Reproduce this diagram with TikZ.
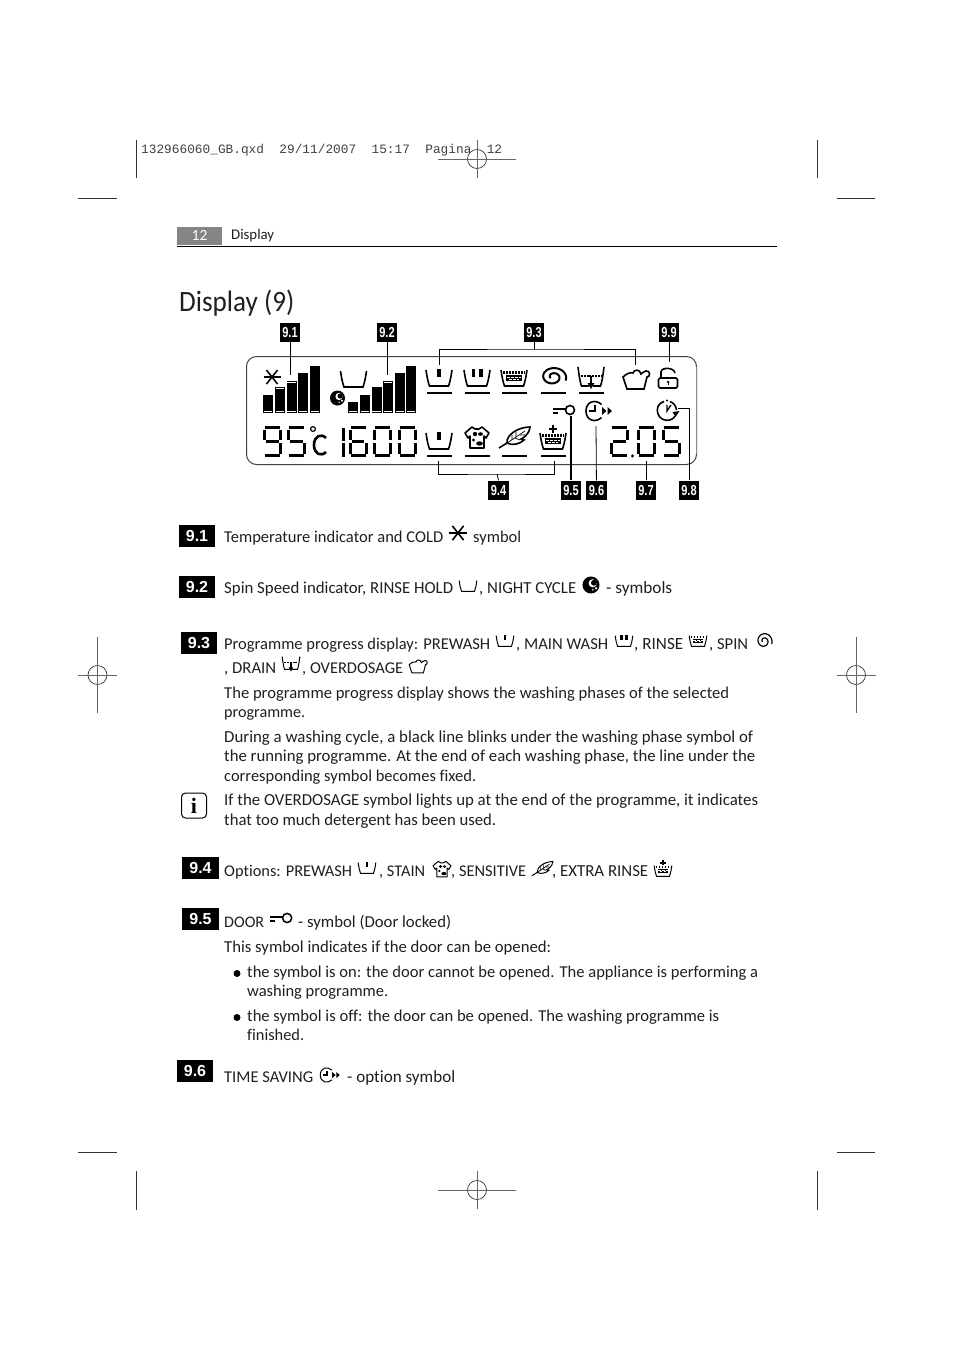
\documentclass[tikz,border=0pt]{standalone}
\usepackage{graphicx}
\usepackage{fontspec}
\setmainfont{Carlito}[Ligatures=NoCommon]
\newfontfamily\titlefont[FakeStretch=0.92,Ligatures=NoCommon]{Carlito}
\newfontfamily\tagfont[FakeStretch=0.76]{Liberation Sans}
\newfontfamily\sectionfont{Liberation Sans}
\newfontfamily\headfont{Liberation Serif}
\setmonofont{Liberation Mono}
\usetikzlibrary{arrows.meta}
\definecolor{inkgray}{gray}{0.12}
\newcommand{\fitw}[2]{\resizebox{#1pt}{!}{#2}} % printed width of a line
\tikzset{
  body/.style={anchor=base west, inner sep=0pt, text=inkgray, font=\fontsize{16.75}{18}\selectfont}, % one printed line
  tag/.style={fill=black, text=white, inner sep=0pt, minimum width=20.5pt, minimum height=19pt, font=\tagfont\bfseries\fontsize{14.5}{15}\selectfont},
  sectiontag/.style={fill=black, text=white, inner sep=0pt, minimum width=36pt, minimum height=22pt, font=\sectionfont\bfseries\fontsize{16}{17}\selectfont},
  leader/.style={line width=.8pt, black},
  crop/.style={line width=.7pt, black!80},
  lcd/.style={line width=1.6pt, black}, % symbols of the display
  inline/.style={scale=.68, line width=1pt, black}, % symbols inside the text
  segline/.style={line width=3.2pt, black},
  underline/.style={line width=1.6pt, black},
  pics/tub/.style={code={
    \draw (-13,-8) .. controls (-12,-1) and (-11,4) .. (-9.5,8) -- (9.5,8) .. controls (11,4) and (12,-1) .. (13,-8);
  }},
  pics/prewash/.style={code={
    \pic[transform shape] {tub};
    \fill (-1.8,-9) rectangle (1.8,-1);
  }},
  pics/mainwash/.style={code={
    \pic[transform shape] {tub};
    \fill (-5.5,-9) rectangle (-2,-1);
    \fill (2,-9) rectangle (5.5,-1);
  }},
  pics/rinse/.style={code={
    \pic[transform shape] {tub};
    \draw[line width=2.2pt, dash pattern=on 1.6pt off 1.4pt] (-11,-5.5) -- (11,-5.5);
    \fill (-8,-3) rectangle (8,3);
    \draw[white, line width=1pt, dash pattern=on 2.5pt off 1.5pt] (-7,-1) -- (7,-1);
    \draw[white, line width=1pt, dash pattern=on 2.5pt off 1.5pt] (-5,1.2) -- (5,1.2);
  }},
  pics/spin/.style={code={
    \draw plot[domain=0:1, samples=50, smooth] ({(13.5-11*\x)*cos(20-590*\x)},{(10.5-8.5*\x)*sin(20-590*\x)});
  }},
  pics/drain/.style={code={
    \draw (-13,-11) .. controls (-12,-3) and (-11,4) .. (-9.5,8) -- (-2,8);
    \draw (2,8) -- (9.5,8) .. controls (11,4) and (12,-3) .. (13,-11);
    \draw[line width=1.3pt, dash pattern=on 2pt off .8pt] (-10,-2) -- (10,-2);
    \draw[line width=1.3pt] (0,-2) -- (0,7);
    \fill (-3.5,5) -- (3.5,5) -- (0,11) -- cycle;
  }},
  pics/overdose/.style={code={
    \draw (-13,-2) -- (-9,10) -- (8,10) -- (11,-2) .. controls (15,-2) and (14,-9) .. (10,-8) .. controls (7,-8) and (6,-5) .. (5,-5) .. controls (4,-10) and (-2,-10) .. (-3,-6) .. controls (-6,-7) and (-10,-5) .. (-13,-2) -- cycle;
  }},
  pics/padlock/.style={code={
    \draw[rounded corners=1.5pt] (-9.5,0) rectangle (9.5,10);
    \draw (-7,0) -- (-7,-6) .. controls (-7,-11) and (6,-11) .. (7,-5);
    \draw[line width=1pt] (0,3) -- (0,7);
    \fill (-1.5,4.5) -- (1.5,4.5) -- (0,2.5) -- cycle;
  }},
  pics/doorkey/.style={code={
    \draw (7,-1) circle (4.5);
    \draw[line width=2pt] (-10,-2) -- (2.5,-2);
    \draw[line width=2pt] (-10,2) -- (-5,2);
  }},
  pics/timesave/.style={code={
    \draw (6.5,-6.5) .. controls (1,-12) and (-9,-10) .. (-9,0) .. controls (-9,10) and (1,12) .. (6.5,6.5);
    \draw[line width=1.3pt] (0,-6) -- (0,0) -- (-6,0);
    \fill (7,-4) -- (11.5,0) -- (7,4) -- cycle;
    \fill (12.5,-4) -- (17,0) -- (12.5,4) -- cycle;
  }},
  pics/delay/.style={code={
    \draw (-3,-9.5) .. controls (-9,-8) and (-11,-2) .. (-9,3) .. controls (-6,11) and (5,11) .. (8,5);
    \draw (3,-9.5) .. controls (7,-8) and (9,-5) .. (9.5,-1);
    \draw[line width=1.3pt] (0,-6) -- (0,0) -- (4,-6);
    \fill (0,-10.5) circle (1.2);
    \fill (5.5,1) -- (12.5,0) -- (8.5,6) -- cycle;
  }},
  pics/snow/.style={code={
    \draw (-8.5,0) -- (8.5,0);
    \draw (-5.5,-7) -- (5.5,7);
    \draw (5.5,-7) -- (-5.5,7);
  }},
  pics/moon/.style={code={
    \fill (0,0) circle (7.5);
    \fill[white] (1.5,-1.5) circle (3.6);
    \fill (2.6,-2) circle (2.6);
    \fill[white] (4.5,2.8) circle (1.1);
    \fill[white] (1.6,4.2) circle (.8);
  }},
  pics/shirt/.style={code={
    \draw[line join=round] (-12,-7) -- (-5,-13) -- (-2,-11) -- (2,-11) -- (5,-13) -- (12,-7) -- (9,-2) -- (7,-4) -- (7,8) -- (-7,8) -- (-7,-4) -- (-9,-2) -- cycle;
    \fill (-2,-6) circle (2.2);
    \fill (3.5,-6) ellipse (2.5 and 1.8);
    \fill (-3.5,0) circle (1.6);
    \fill (2.5,3.5) ellipse (3.4 and 2.2);
  }},
  pics/feather/.style={code={
    \draw (-15,10) -- (-7,5);
    \draw (-7,5) .. controls (-8,-3) and (4,-11) .. (16,-11) .. controls (15,-3) and (9,0) .. (7,1) -- (10,2) .. controls (6,6) and (-2,8) .. (-7,5) -- cycle;
    \draw[line width=.7pt] (-7,5) -- (11,-7);
    \draw[line width=.7pt] (-2,2) -- (-2,-3) (2,-1) -- (2,-6) (1,0) -- (6,2) (6,-3) -- (11,-3);
  }},
  pics/extrarinse/.style={code={
    \pic[transform shape] {rinse};
    \draw[line width=2pt] (-4,-12.5) -- (4,-12.5) (0,-16.5) -- (0,-8.5);
  }},
}
\newcommand{\segdigit}[3]{%
  \begin{scope}[shift={(#1+1.6,#2+1.6)}]
    \foreach \s in {#3} {\draw[segline] \csname seg\s\endcsname;}
  \end{scope}}
\def\sega{(.4,0) -- (15.6,0)}
\def\segb{(16,2) -- (16,12.2)}
\def\segc{(16,15.8) -- (16,26)}
\def\segd{(.4,28) -- (15.6,28)}
\def\sege{(0,15.8) -- (0,26)}
\def\segf{(0,2) -- (0,12.2)}
\def\segg{(1.8,14) -- (14.2,14)}

\begin{document}
\begin{tikzpicture}[x=1pt, y=-1pt]
  \useasboundingbox (0,0) rectangle (954,1350);

  % crop marks
  \draw[crop] (136,140) -- (136,178) (817,140) -- (817,178);
  \draw[crop] (136,1171) -- (136,1210) (817,1171) -- (817,1210);
  \draw[crop] (78,198) -- (117,198) (837,198) -- (875,198);
  \draw[crop] (78,1152) -- (117,1152) (837,1152) -- (875,1152);
  \foreach \x/\y/\u/\v in {477/159/39/19, 477/1190/39/19, 97.5/675/19.5/38, 856/675/19.5/38} {
    \draw[crop] (\x,\y) circle (9.5);
    \draw[crop, black!60] (\x-\u,\y) -- (\x+\u,\y) (\x,\y-\v) -- (\x,\y+\v);
  }
  \node[anchor=base west, inner sep=0pt, text=black!75, font=\ttfamily\fontsize{12.8}{14}\selectfont] (slug) at (141,153) {132966060\_GB.qxd\ \ 29/11/2007\ \ 15:17\ \ Pagina\ \ 12};

  % page head
  \node[fill=black!48, text=white, inner sep=0pt, minimum width=45pt, minimum height=18pt, font=\fontsize{15.5}{16}\selectfont] (pageno) at (199.5,235.5) {12};
  \node[body, font=\fontsize{15.5}{16}\selectfont] (headtext) at (231,239) {\fitw{43}{Display}};
  \draw[line width=1pt] (177,246.5) -- (777,246.5);
  \node[body, font=\titlefont\fontsize{29.5}{31}\selectfont] (title) at (179,311) {Display (9)};

  % display panel
  \draw[line width=1pt, black!75, rounded corners=10pt] (246.5,356.5) rectangle (696.5,464.5);
  \draw[line width=1.2pt, black!45] (696.5,367) -- (696.5,454);

  \foreach \x/\t/\s in {263/395/0, 275/387/1, 286.5/381/1, 298/373/0, 310/366/0,
                        348/402/0, 360/395/0, 371.5/387/0, 383/381/1, 395/373/0, 406/366/0} {
    \fill (\x,\t) rectangle (\x+10,413);
    \draw[white, line width=.7pt] (\x+.8,411) -- (\x+9.2,411);
    \ifnum\s=1 \draw[white, line width=.7pt] (\x+.8,\t+1.6) -- (\x+9.2,\t+1.6); \fi
  }

  \begin{scope}[lcd]
    \pic at (272,377) {snow};
    \pic at (353.5,379) {tub};
    \pic at (337.5,398) {moon};
    \pic at (439,378) {prewash};
    \pic at (477,378) {mainwash};
    \pic at (514,378) {rinse};
    \pic[line width=2pt] at (553,377) {spin};
    \pic at (591,378) {drain};
    \pic at (636,379) {overdose};
    \pic at (668,378) {padlock};
    \pic at (563,411) {doorkey};
    \pic at (595,411) {timesave};
    \pic at (667,411) {delay};
    \pic at (439,441) {prewash};
    \pic at (477,440) {shirt};
    \pic at (514,438) {feather};
    \pic at (553,441) {extrarinse};
  \end{scope}
  \foreach \x in {439.5, 477, 514.5, 553, 591.5} {\draw[underline] (\x-12.5,393) -- (\x+12.5,393);}
  \foreach \x in {439.5, 477, 514.5, 553} {\draw[underline] (\x-12.5,456) -- (\x+12.5,456);}

  \segdigit{263}{426}{a,b,c,d,f,g}
  \segdigit{287}{426}{a,c,d,f,g}
  \draw[line width=1.2pt] (313,429) circle (2.4);
  \draw[line width=2.6pt] (326,438) .. controls (321,433) and (314,436) .. (314,445) .. controls (314,454) and (321,457) .. (326,452);
  \draw[segline] (343.5,427.5) -- (343.5,441) (343.5,442.5) -- (343.5,456.5);
  \segdigit{348.5}{426}{a,c,d,e,f,g}
  \segdigit{373}{426}{a,b,c,d,e,f}
  \segdigit{398}{426}{a,b,c,d,e,f}
  \segdigit{610}{426}{a,b,d,e,g}
  \fill (632.5,456) circle (1.6);
  \segdigit{636.5}{426}{a,b,c,d,e,f}
  \segdigit{662}{426}{a,c,d,f,g}

  % numbered tags round the panel
  \node[tag] (l91) at (290,332.5) {9.1};
  \node[tag] (l92) at (387,332.5) {9.2};
  \node[tag] (l93) at (534,332.5) {9.3};
  \node[tag] (l99) at (669,332.5) {9.9};
  \node[tag] (l94) at (498.5,490) {9.4};
  \node[tag] (l95) at (571,490) {9.5};
  \node[tag] (l96) at (596.5,490) {9.6};
  \node[tag] (l97) at (646,490) {9.7};
  \node[tag] (l98) at (689,490) {9.8};

  \coordinate (c91) at (290,375);
  \coordinate (c92) at (387,375);
  \coordinate (c99) at (669,362);
  \coordinate (c93) at (534,349);
  \coordinate (c93a) at (439,365);
  \coordinate (c93b) at (635,365);
  \coordinate (c94) at (497,474);
  \coordinate (c94a) at (438,461);
  \coordinate (c94b) at (554,461);
  \coordinate (c95) at (571,416);
  \coordinate (c96) at (596,426);
  \coordinate (c97) at (646,461);
  \coordinate (c98) at (678,408);
  \draw[leader] (l91) -- (c91);
  \draw[leader] (l92) -- (c92);
  \draw[leader] (l99) -- (c99);
  \draw[leader] (l93) -- (c93);
  \draw[leader] (c93a) |- (c93) -| (c93b);
  \draw[leader] (l94.north) -- (c94);
  \draw[leader] (c94a) |- (c94) -| (c94b);
  \draw[leader, line width=2pt] (l95) -- (c95);
  \draw[leader] (l96) -- (c96);
  \draw[leader] (l97) -- (c97);
  \draw[leader] (l98) |- (c98);

  % 9.1
  \node[sectiontag] (s91) at (197,536) {9.1};
  \node[body] (t11) at (224,542) {\fitw{219}{Temperature indicator and COLD}};
  \pic[inline, scale=1.5, line width=1.6pt] at (458,533) {snow};
  \node[body] (t12) at (473,542) {\fitw{48}{symbol}};

  % 9.2
  \node[sectiontag] (s92) at (197,587) {9.2};
  \node[body] (t21) at (224,593) {\fitw{229}{Spin Speed indicator, RINSE HOLD}};
  \pic[inline] at (468,586) {tub};
  \node[body] (t22) at (479,593) {\fitw{97}{, NIGHT CYCLE}};
  \pic[inline, scale=1.67] at (591,585) {moon};
  \node[body] (t23) at (606,593) {\fitw{66}{- symbols}};

  % 9.3
  \node[sectiontag] (s93) at (199,642.5) {9.3};
  \node[body] (t31) at (224,649) {\fitw{266}{Programme progress display: PREWASH}};
  \pic[inline] at (505,641) {prewash};
  \node[body] (t32) at (516,649) {\fitw{92}{, MAIN WASH}};
  \pic[inline] at (624,641) {mainwash};
  \node[body] (t33) at (634,649) {\fitw{49}{, RINSE}};
  \pic[inline] at (698,641) {rinse};
  \node[body] (t34) at (709,649) {\fitw{39}{, SPIN}};
  \pic[inline, xscale=.9, yscale=1.2, line width=1.2pt] at (764,641) {spin};
  \node[body] (t35) at (224,673) {\fitw{52}{, DRAIN}};
  \pic[inline] at (291,664) {drain};
  \node[body] (t36) at (302,673) {\fitw{101}{, OVERDOSAGE}};
  \pic[inline] at (418,666) {overdose};
  \node[body] (t37) at (224,698) {\fitw{505}{The programme progress display shows the washing phases of the selected}};
  \node[body] (t38) at (224,717) {\fitw{81}{programme.}};
  \node[body] (t39) at (224,742) {\fitw{529}{During a washing cycle, a black line blinks under the washing phase symbol of}};
  \node[body] (t40) at (224,761) {\fitw{531}{the running programme. At the end of each washing phase, the line under the}};
  \node[body] (t41) at (224,781) {\fitw{252}{corresponding symbol becomes fixed.}};
  \node[draw, line width=1pt, rounded corners=4pt, minimum width=25pt, minimum height=25pt, inner sep=0pt, font=\headfont\bfseries\fontsize{22}{22}\selectfont] (info) at (194,805.5) {i};
  \node[body] (t42) at (224,805) {\fitw{534}{If the OVERDOSAGE symbol lights up at the end of the programme, it indicates}};
  \node[body] (t43) at (224,825) {\fitw{272}{that too much detergent has been used.}};

  % 9.4
  \node[sectiontag, minimum width=37pt] (s94) at (200.5,868) {9.4};
  \node[body] (t51) at (224,876) {\fitw{128}{Options: PREWASH}};
  \pic[inline] at (367,868) {prewash};
  \node[body] (t52) at (379,876) {\fitw{46}{, STAIN}};
  \pic[inline, scale=1.1] at (442,871) {shirt};
  \node[body] (t53) at (451,876) {\fitw{75}{, SENSITIVE}};
  \pic[inline] at (542,869) {feather};
  \node[body] (t54) at (552,876) {\fitw{96}{, EXTRA RINSE}};
  \pic[inline] at (663,871) {extrarinse};

  % 9.5
  \node[sectiontag, minimum width=37pt] (s95) at (200.5,919) {9.5};
  \node[body] (t61) at (224,927) {\fitw{40}{DOOR}};
  \pic[inline, scale=1.5, line width=1.5pt] at (280,919) {doorkey};
  \node[body] (t62) at (298,927) {\fitw{153}{- symbol (Door locked)}};
  \node[body] (t63) at (224,952) {\fitw{327}{This symbol indicates if the door can be opened:}};
  \node[circle, fill=black, inner sep=0pt, minimum size=7pt] (b1) at (237,973.5) {};
  \node[body] (t64) at (247,977) {\fitw{511}{the symbol is on: the door cannot be opened. The appliance is performing a}};
  \node[body] (t65) at (247,996) {\fitw{141}{washing programme.}};
  \node[circle, fill=black, inner sep=0pt, minimum size=7pt] (b2) at (237,1017.5) {};
  \node[body] (t66) at (247,1021) {\fitw{472}{the symbol is off: the door can be opened. The washing programme is}};
  \node[body] (t67) at (247,1040) {\fitw{57}{finished.}};

  % 9.6
  \node[sectiontag] (s96) at (195,1070.5) {9.6};
  \node[body] (t71) at (224,1082) {\fitw{89}{TIME SAVING}};
  \pic[inline, scale=1.1] at (327,1075) {timesave};
  \node[body] (t72) at (347,1082) {\fitw{108}{- option symbol}};
\end{tikzpicture}
\end{document}
